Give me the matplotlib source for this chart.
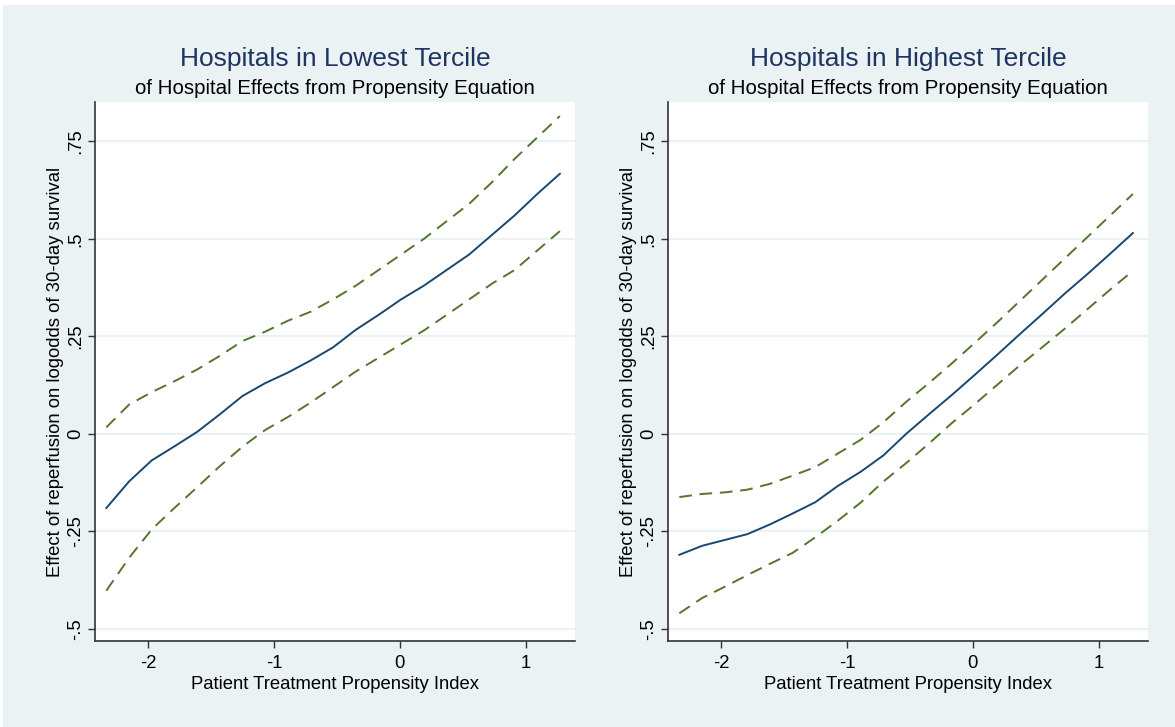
import numpy as np
import matplotlib
matplotlib.use("Agg")
import matplotlib.pyplot as plt
from matplotlib.patches import Rectangle

plt.rcParams['font.family'] = ['Liberation Sans', 'DejaVu Sans']

# propensity index grid
x = [-2.33, -2.15, -1.97, -1.79, -1.61, -1.43, -1.25, -1.07, -0.89, -0.71, -0.53,
     -0.35, -0.17, 0.01, 0.19, 0.37, 0.55, 0.73, 0.91, 1.09, 1.27]

# lowest tercile
low_fit = [-0.190, -0.122, -0.068, -0.032, 0.005, 0.050, 0.097, 0.130, 0.157, 0.188, 0.222,
           0.267, 0.305, 0.345, 0.380, 0.420, 0.460, 0.510, 0.560, 0.615, 0.667]
low_hi = [0.017, 0.075, 0.107, 0.135, 0.165, 0.200, 0.238, 0.262, 0.290, 0.313, 0.345,
          0.380, 0.420, 0.460, 0.500, 0.545, 0.590, 0.645, 0.705, 0.760, 0.815]
low_lo = [-0.402, -0.318, -0.245, -0.190, -0.137, -0.083, -0.033, 0.010, 0.043, 0.080, 0.120,
          0.160, 0.195, 0.230, 0.265, 0.305, 0.345, 0.385, 0.420, 0.470, 0.520]

# highest tercile
high_fit = [-0.310, -0.287, -0.272, -0.257, -0.232, -0.204, -0.175, -0.133, -0.097, -0.055, 0.000,
            0.050, 0.099, 0.150, 0.202, 0.255, 0.307, 0.360, 0.410, 0.462, 0.515]
high_hi = [-0.162, -0.154, -0.150, -0.143, -0.128, -0.107, -0.085, -0.050, -0.015, 0.030, 0.082,
           0.130, 0.180, 0.232, 0.285, 0.340, 0.395, 0.450, 0.505, 0.560, 0.615]
high_lo = [-0.460, -0.421, -0.392, -0.362, -0.333, -0.305, -0.265, -0.222, -0.176, -0.122, -0.075,
           -0.025, 0.027, 0.075, 0.125, 0.175, 0.222, 0.270, 0.320, 0.370, 0.418]

titles = ["Hospitals in Lowest Tercile", "Hospitals in Highest Tercile"]
subtitle = "of Hospital Effects from Propensity Equation"
xlabel = "Patient Treatment Propensity Index"
ylabel = "Effect of reperfusion on logodds of 30-day survival"
yticks = [-0.5, -0.25, 0, 0.25, 0.5, 0.75]
ytick_labels = ["-.5", "-.25", "0", ".25", ".5", ".75"]
xticks = [-2, -1, 0, 1]
xtick_labels = ["-2", "-1", "0", "1"]

BG = '#eaf2f3'
NAVY = '#1a476f'
GREEN = '#55752f'
TITLE = '#1f3461'

fig = plt.figure(figsize=(11.75, 7.27), dpi=100)
fig.patch.set_facecolor('white')
fig.patches.append(Rectangle((3 / 1175, 0), 1, 1 - 5 / 727, transform=fig.transFigure,
                             facecolor=BG, edgecolor='none', zorder=-10))

panels = [(low_fit, low_hi, low_lo), (high_fit, high_hi, high_lo)]
lefts = [95 / 1175, 668 / 1175]

for i, (fit, hi, lo) in enumerate(panels):
    ax = fig.add_axes([lefts[i], 1 - 641 / 727, 480 / 1175, 539 / 727])
    ax.set_facecolor('white')
    ax.plot(x, fit, color=NAVY, lw=1.4, zorder=3)
    ax.plot(x, hi, color=GREEN, lw=1.4, dashes=(6.5, 4), zorder=3)
    ax.plot(x, lo, color=GREEN, lw=1.4, dashes=(6.5, 4), zorder=3)

    ax.set_xlim(-2.42, 1.39)
    ax.set_ylim(-0.531, 0.851)
    ax.set_yticks(yticks)
    ax.set_yticklabels(ytick_labels, rotation=90, va='center', fontsize=13.3)
    ax.set_xticks(xticks)
    ax.set_xticklabels(xtick_labels, fontsize=13.3)
    ax.tick_params(axis='both', direction='out', length=5, width=1.0, color='#333333', pad=5)
    ax.tick_params(axis='y', pad=3)
    ax.grid(axis='y', color=BG, lw=1.5, zorder=0)
    ax.set_axisbelow(True)
    for s in ['top', 'right']:
        ax.spines[s].set_visible(False)
    for s in ['left', 'bottom']:
        ax.spines[s].set_color('#333333')
        ax.spines[s].set_linewidth(1.2)

    ax.set_xlabel(xlabel, fontsize=13.3, labelpad=3)
    ax.set_ylabel(ylabel, fontsize=13.3, labelpad=2)
    ax.text(0.5, 1 + 43 / 539, titles[i], transform=ax.transAxes, ha='center', va='center',
            fontsize=19, color=TITLE)
    ax.text(0.5, 1 + 13 / 539, subtitle, transform=ax.transAxes, ha='center', va='center',
            fontsize=14.8, color='black')

fig.savefig('out.png', dpi=100, facecolor=fig.get_facecolor())
